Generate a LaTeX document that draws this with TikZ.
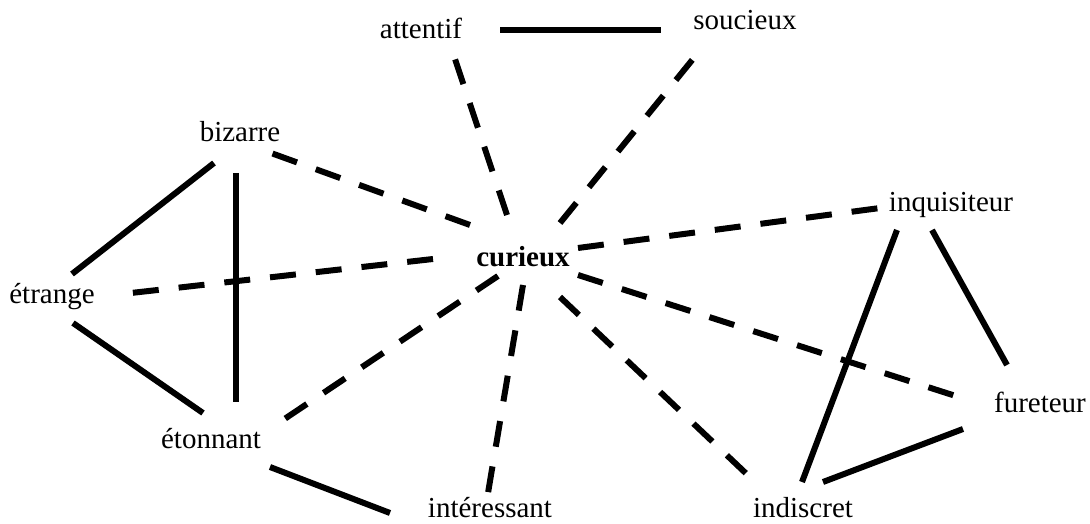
\documentclass[tikz,border=0pt]{standalone}
\usepackage{fontspec}
\setmainfont{Liberation Serif}
\usetikzlibrary{calc}

\tikzset{every picture/.style={line width=0.75pt}}
\tikzset{
	mot/.style={anchor=base,inner sep=0.75pt,font=\fontsize{21.75}{26}\selectfont},
	lien/.style={line width=4.5pt},
	lienpointille/.style={line width=4.5pt,dash pattern=on 19.5pt off 15pt}
}

\begin{document}
\begin{tikzpicture}[x=0.75pt,y=0.75pt,yscale=-1,xscale=1]
		%set diagram left start at 0, and has height of 524
		\useasboundingbox (0,0) rectangle (1090,524);
		
		% Text Node
		\node [mot] (attentif) at (421,39) {attentif};
		% Text Node
		\node [mot] (soucieux) at (745,30) {soucieux};
		% Text Node
		\node [mot] (bizarre) at (240,142) {bizarre};
		% Text Node
		\node [mot] (inquisiteur) at (951,212) {inquisiteur};
		% Text Node
		\node [mot,font=\fontsize{21.75}{26}\selectfont\bfseries] (curieux) at (523,267) {curieux};
		% Text Node
		\node [mot] (etrange) at (52,304) {étrange};
		% Text Node
		\node [mot] (etonnant) at (211,448) {étonnant};
		% Text Node
		\node [mot] (interessant) at (490,517) {intéressant};
		% Text Node
		\node [mot] (indiscret) at (803,517) {indiscret};
		% Text Node
		\node [mot] (fureteur) at (1040,412) {fureteur};
		
		%Straight Lines
		\draw [lien] ($(attentif.base)+(79,-9)$) -- ($(soucieux.base)+(-84,0)$);
		\draw [lien] ($(bizarre.base)+(-26,21)$) -- ($(etrange.base)+(20,-30)$);
		\draw [lien] ($(bizarre.base)+(-4,31)$) -- ($(etonnant.base)+(25,-46)$);
		\draw [lien] ($(etrange.base)+(21,19)$) -- ($(etonnant.base)+(-8,-35)$);
		\draw [lien] ($(etonnant.base)+(59,19)$) -- ($(interessant.base)+(-100,-4)$);
		\draw [lien] ($(inquisiteur.base)+(-54,18)$) -- ($(indiscret.base)+(-1,-35)$);
		\draw [lien] ($(inquisiteur.base)+(-19,18)$) -- ($(fureteur.base)+(-33,-47)$);
		\draw [lien] ($(fureteur.base)+(-77,17)$) -- ($(indiscret.base)+(20,-35)$);
		
		%Dashed Lines
		\draw [lienpointille] ($(curieux.base)+(-16,-52)$) -- ($(attentif.base)+(34,20)$);
		\draw [lienpointille] ($(curieux.base)+(37,-44)$) -- ($(soucieux.base)+(-52,29)$);
		\draw [lienpointille] ($(curieux.base)+(-53,-42)$) -- ($(bizarre.base)+(31,11)$);
		\draw [lienpointille] ($(curieux.base)+(55,-19)$) -- ($(inquisiteur.base)+(-71,-4)$);
		\draw [lienpointille] ($(curieux.base)+(-90,-8)$) -- ($(etrange.base)+(70,-10)$);
		\draw [lienpointille] ($(curieux.base)+(-25,9)$) -- ($(etonnant.base)+(69,-26)$);
		\draw [lienpointille] ($(curieux.base)+(0,18)$) -- ($(interessant.base)+(-2,-24)$);
		\draw [lienpointille] ($(curieux.base)+(37,30)$) -- ($(indiscret.base)+(-49,-36)$);
		\draw [lienpointille] ($(curieux.base)+(55,8)$) -- ($(fureteur.base)+(-78,-14)$);
		
\end{tikzpicture}
\end{document}
